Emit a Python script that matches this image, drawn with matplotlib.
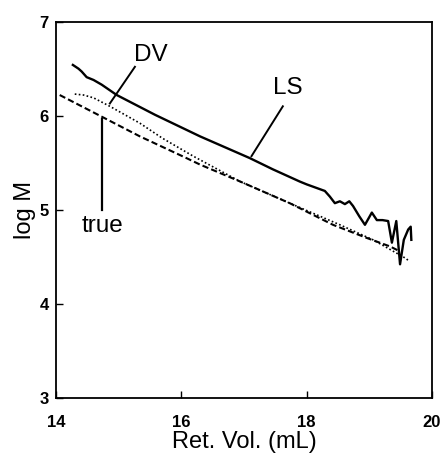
import matplotlib
matplotlib.use("Agg")
import matplotlib.pyplot as plt

plt.rcParams['font.family'] = ['Liberation Sans', 'DejaVu Sans']

# Light scattering (LS) molecular weight
ls_vol = [14.27, 14.36, 14.41, 14.49, 14.60, 14.73, 14.97, 15.58, 16.30, 17.09,
          17.46, 17.89, 18.00, 18.29, 18.37, 18.45, 18.53, 18.61, 18.68, 18.74,
          18.84, 18.93, 19.04, 19.12, 19.21, 19.30, 19.36, 19.43, 19.49, 19.55,
          19.62, 19.66, 19.67]
ls_logm = [6.54, 6.50, 6.47, 6.41, 6.38, 6.33, 6.22, 6.01, 5.78, 5.55,
           5.43, 5.30, 5.27, 5.20, 5.14, 5.07, 5.09, 5.06, 5.09, 5.04,
           4.93, 4.84, 4.97, 4.89, 4.89, 4.88, 4.65, 4.88, 4.42, 4.68,
           4.79, 4.82, 4.68]

# Differential viscometry (DV) molecular weight
dv_vol = [14.30, 14.44, 14.60, 14.86, 15.34, 15.70, 16.19, 16.94, 17.73, 18.53,
          19.06, 19.59, 19.62]
dv_logm = [6.23, 6.22, 6.19, 6.10, 5.92, 5.76, 5.57, 5.30, 5.07, 4.84,
           4.68, 4.48, 4.46]

# True molecular weight
true_vol = [14.06, 14.73, 15.34, 16.08, 16.30, 16.94, 17.73, 18.42, 18.96, 19.33, 19.45]
true_logm = [6.22, 5.99, 5.78, 5.55, 5.48, 5.30, 5.07, 4.84, 4.70, 4.61, 4.57]

fig = plt.figure(figsize=(4.44, 4.61), dpi=100)
ax = fig.add_axes([0.126, 0.137, 0.847, 0.816])

ax.plot(ls_vol, ls_logm, color='black', lw=1.7, solid_joinstyle='round')
ax.plot(dv_vol, dv_logm, color='black', lw=1.2, linestyle=(0, (1, 1.4)))
ax.plot(true_vol, true_logm, color='black', lw=1.5, linestyle=(0, (3, 1.5)))

# Curve labels with leader lines
ax.plot([15.26, 14.86], [6.52, 6.13], color='black', lw=1.4)
ax.text(15.52, 6.65, 'DV', fontsize=17.5, ha='center', va='center')
ax.plot([17.62, 17.12], [6.10, 5.57], color='black', lw=1.4)
ax.text(17.70, 6.29, 'LS', fontsize=17.5, ha='center', va='center')
ax.plot([14.74, 14.74], [5.97, 5.00], color='black', lw=1.6)
ax.text(14.75, 4.76, 'true', fontsize=17.5, ha='center', va='baseline')

ax.set_xlim(14, 20)
ax.set_ylim(3, 7)
ax.set_xticks([14, 16, 18, 20])
ax.set_yticks([3, 4, 5, 6, 7])
ax.tick_params(direction='in', length=5, width=1, labelsize=12)
ax.tick_params(axis='x', pad=12)
ax.tick_params(axis='y', pad=5)
for lbl in ax.get_xticklabels() + ax.get_yticklabels():
    lbl.set_fontweight('bold')
for s in ax.spines.values():
    s.set_linewidth(1.3)

ax.set_xlabel('Ret. Vol. (mL)', fontsize=17, labelpad=1)
ax.set_ylabel('log M', fontsize=17, labelpad=3)

fig.savefig('out.png', dpi=100)
